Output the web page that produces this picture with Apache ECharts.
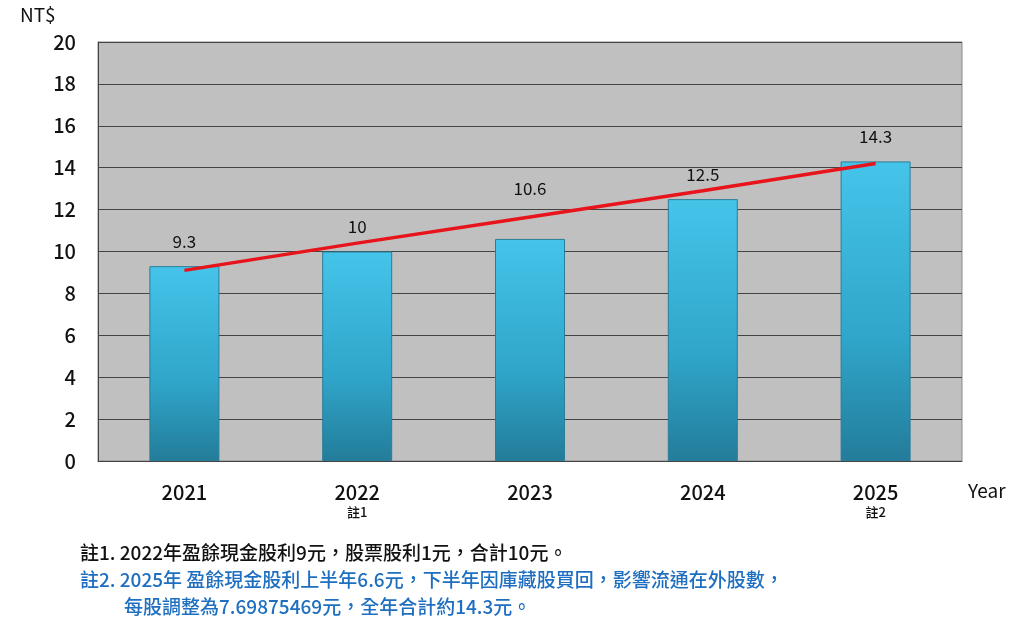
<!DOCTYPE html>
<html><head><meta charset="utf-8">
<script src="https://cdn.jsdelivr.net/npm/echarts@6/dist/echarts.min.js"></script>
<style>html,body{margin:0;padding:0;background:#fff}#c{width:1024px;height:633px}</style>
</head><body><div id="c"></div>
<script>
const categories = ['2021','2022','2023','2024','2025'];
const categoryNotes = ['', '註1', '', '', '註2'];
const dividends = [9.3, 10, 10.6, 12.5, 14.3];
const trend = [9.1, 10.4, 11.65, 12.9, 14.2];
const yTicks = [0,2,4,6,8,10,12,14,16,18,20];
const note1 = '註1. 2022年盈餘現金股利9元，股票股利1元，合計10元。';
const note2a = '註2. 2025年 盈餘現金股利上半年6.6元，下半年因庫藏股買回，影響流通在外股數，';
const note2b = '每股調整為7.69875469元，全年合計約14.3元。';
const font = '"Noto Sans CJK TC","Noto Sans",sans-serif';
const chart = echarts.init(document.getElementById('c'));
chart.setOption({
  animation:false,
  textStyle:{fontFamily:font},
  grid:{left:98,right:62,top:42,bottom:172,show:true,backgroundColor:'#c0c0c0',borderColor:'#888',borderWidth:1},
  xAxis:{type:'category',data:categories,
    axisLine:{lineStyle:{color:'#444'}},axisTick:{show:false},
    axisLabel:{margin:20,lineHeight:22,color:'#111',fontSize:20,fontWeight:500,fontFamily:font,
      formatter:(v,i)=>categoryNotes[i]?v+'\n{n|'+categoryNotes[i]+'}':v,
      rich:{n:{fontSize:13,color:'#111',fontFamily:font,lineHeight:18}}}},
  yAxis:{type:'value',min:0,max:20,interval:2,
    axisLine:{show:true,lineStyle:{color:'#444'}},axisTick:{show:false},
    axisLabel:{color:'#111',fontSize:20,fontWeight:500,margin:22,fontFamily:font,formatter:v=>yTicks.includes(v)?String(v):''},
    splitLine:{lineStyle:{color:'#444',width:1}}},
  series:[
    {type:'bar',barWidth:70,
     data:dividends.map((v,i)=>({value:v,label:{distance:i===2?42:16}})),
     itemStyle:{borderColor:'#2a7d99',borderWidth:1,
       color:new echarts.graphic.LinearGradient(0,0,0,1,[{offset:0,color:'#45c4ea'},{offset:0.6,color:'#2fa5c9'},{offset:1,color:'#237c9a'}])},
     label:{show:true,position:'top',color:'#111',fontSize:17,fontFamily:font}},
    {type:'line',data:trend,symbol:'none',lineStyle:{color:'#e8141b',width:3.5},z:5}
  ],
  graphic:[
    {type:'text',left:20,top:5,style:{text:'NT$',fontSize:19,fill:'#111',fontFamily:font}},
    {type:'text',left:968,top:481,style:{text:'Year',fontSize:19,fill:'#111',fontFamily:font}},
    {type:'text',left:80,top:543,style:{text:note1,fontSize:19,fontWeight:500,fill:'#111',fontFamily:font}},
    {type:'text',left:80,top:570,style:{text:note2a,fontSize:19,fontWeight:500,fill:'#1f6fc0',fontFamily:font}},
    {type:'text',left:124,top:597,style:{text:note2b,fontSize:19,fontWeight:500,fill:'#1f6fc0',fontFamily:font}}
  ]
});
</script></body></html>
